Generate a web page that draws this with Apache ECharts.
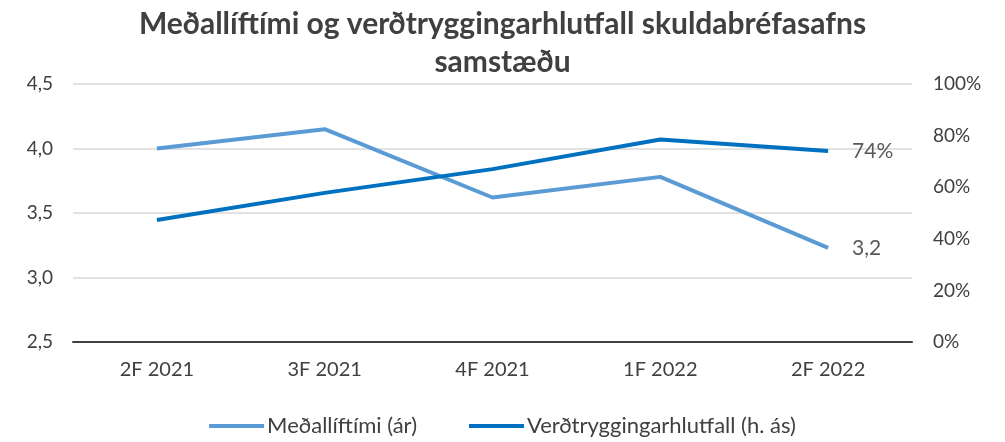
<!DOCTYPE html>
<html>
<head>
<meta charset="utf-8">
<script src="https://cdn.jsdelivr.net/npm/echarts@6/dist/echarts.min.js"></script>
<style>
  html, body { margin: 0; padding: 0; background: #fff; }
  #chart { width: 1005px; height: 442px; }
</style>
</head>
<body>
<div id="chart"></div>
<script>
// gögn
const categories = ['2F 2021', '3F 2021', '4F 2021', '1F 2022', '2F 2022']
const medallliftimi = [4.0, 4.15, 3.62, 3.78, 3.23]
const verdtrygging = [0.473, 0.578, 0.67, 0.785, 0.74]

const FONT = 'Lato, "Open Sans", sans-serif'
const fmtComma = (v, d) => v.toFixed(d).replace('.', ',')

const chart = echarts.init(document.getElementById('chart'))

const option = {
  animation: false,
  textStyle: { fontFamily: FONT },
  title: {
    text: 'Meðallíftími og verðtryggingarhlutfall skuldabréfasafns\nsamstæðu',
    left: 'center',
    top: 0,
    textStyle: { fontSize: 30, fontWeight: 'bold', color: '#404040', lineHeight: 38, fontFamily: FONT }
  },
  legend: {
    bottom: 0,
    left: 'center',
    itemWidth: 55,
    itemHeight: 4,
    itemGap: 52,
    icon: 'rect',
    textStyle: { fontSize: 22, color: '#404040', fontFamily: FONT, padding: [0, 0, 0, -2] },
    data: ['Meðallíftími (ár)', 'Verðtryggingarhlutfall (h. ás)']
  },
  grid: { left: 73, right: 93, top: 84, bottom: 100 },
  xAxis: {
    type: 'category',
    data: categories,
    boundaryGap: true,
    axisLine: { lineStyle: { color: '#404040', width: 2 } },
    axisTick: { show: false },
    axisLabel: { fontSize: 20, color: '#404040', margin: 18, fontFamily: FONT }
  },
  yAxis: [
    {
      type: 'value',
      min: 2.5, max: 4.5, interval: 0.5,
      axisLine: { show: false },
      axisTick: { show: false },
      splitLine: { lineStyle: { color: '#d9d9d9', width: 1.5 } },
      axisLabel: { fontSize: 19, color: '#404040', margin: 20, formatter: v => fmtComma(v, 1), fontFamily: FONT }
    },
    {
      type: 'value',
      min: 0, max: 1, interval: 0.2,
      axisLine: { show: false },
      axisTick: { show: false },
      splitLine: { show: false },
      axisLabel: { fontSize: 19, color: '#404040', margin: 21, formatter: v => Math.round(v * 100) + '%', fontFamily: FONT }
    }
  ],
  series: [
    {
      name: 'Meðallíftími (ár)',
      type: 'line',
      yAxisIndex: 0,
      data: medallliftimi,
      symbol: 'none',
      lineStyle: { color: '#5b9bd5', width: 4 },
      itemStyle: { color: '#5b9bd5' },
      endLabel: {
        show: true,
        distance: 24,
        fontSize: 21,
        color: '#595959',
        fontFamily: FONT,
        formatter: p => fmtComma(p.value, 1)
      }
    },
    {
      name: 'Verðtryggingarhlutfall (h. ás)',
      type: 'line',
      yAxisIndex: 1,
      data: verdtrygging,
      symbol: 'none',
      lineStyle: { color: '#0070c0', width: 4 },
      itemStyle: { color: '#0070c0' },
      endLabel: {
        show: true,
        distance: 24,
        fontSize: 21,
        color: '#595959',
        fontFamily: FONT,
        formatter: p => Math.round(p.value * 100) + '%'
      }
    }
  ]
}

chart.setOption(option)
</script>
</body>
</html>
